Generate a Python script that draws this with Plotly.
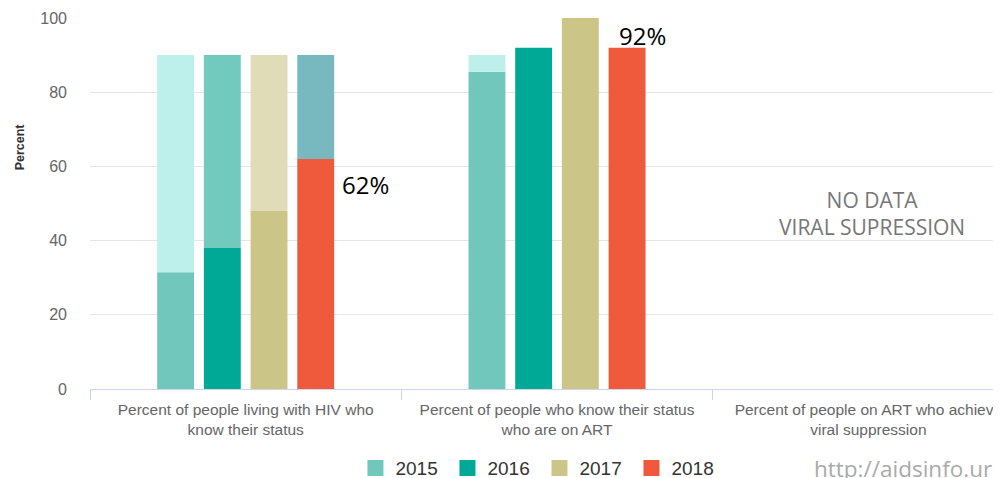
import plotly.graph_objects as go

categories = [
    "Percent of people living with HIV who<br>know their status",
    "Percent of people who know their status<br>who are on ART",
    "Percent of people on ART who achieve<br>viral suppression",
]
years = ["2015", "2016", "2017", "2018"]
target = 90

values_2015 = [31.5, 85.5, None]
values_2016 = [38, 92, None]
values_2017 = [48, 100, None]
values_2018 = [62, 92, None]
values = [values_2015, values_2016, values_2017, values_2018]

main_colors = ["#72c7bd", "#00a896", "#cbc687", "#f05a3c"]
gap_colors = ["#bdf0eb", "#72c9be", "#e0dcb8", "#77b9bf"]

fig = go.Figure()
for yr, vals, mc, gc in zip(years, values, main_colors, gap_colors):
    fig.add_trace(go.Bar(x=categories, y=vals, marker=dict(color=mc, line=dict(width=0)),
                         offsetgroup=yr, showlegend=False, name=yr))
    gaps = [(target - v) if (v is not None and v < target) else None for v in vals]
    fig.add_trace(go.Bar(x=categories, y=gaps, base=vals, marker=dict(color=gc, line=dict(width=0)),
                         offsetgroup=yr, showlegend=False, name=yr + " gap"))
    fig.add_trace(go.Scatter(x=[None], y=[None], mode="markers", name=yr,
                             marker=dict(symbol="square", size=17, color=mc)))

fig.update_layout(
    width=993, height=470,
    margin=dict(l=82, r=0, t=10, b=89),
    paper_bgcolor="white", plot_bgcolor="white",
    barmode="group", bargap=0.4, bargroupgap=0.21,
    font=dict(family="Arial, Liberation Sans", color="#666"),
    legend=dict(orientation="h", x=0.293, xanchor="left",
                yref="container", y=0.021, yanchor="middle",
                entrywidth=47, entrywidthmode="pixels",
                font=dict(size=19, color="#333"), itemclick=False),
    xaxis=dict(type="category", range=[-0.5, 2.41], tickson="boundaries", ticks="outside",
               ticklen=10, tickcolor="#ccd6eb", showline=True, linecolor="#ccd6eb",
               showgrid=False, tickfont=dict(size=15.5, color="#666"), ticklabelstandoff=6),
    yaxis=dict(range=[0, 100], dtick=20, gridcolor="#e6e6e6", zeroline=False,
               tickfont=dict(size=16, color="#666"), ticklabelstandoff=22),
)

fig.add_annotation(text="<b>Percent</b>", xref="paper", yref="paper", x=-0.077, y=0.652,
                   xanchor="center", yanchor="middle",
                   textangle=-90, showarrow=False, font=dict(size=12.5, color="#333"))
fig.add_annotation(text="62%", x=0, y=55, xref="x", yref="y", xanchor="left", xshift=94,
                   showarrow=False, font=dict(size=24, color="black", family="Open Sans"))
fig.add_annotation(text="92%", x=1, y=95.4, xref="x", yref="y", xanchor="left", xshift=60,
                   showarrow=False, font=dict(size=24, color="black", family="Open Sans"))
fig.add_annotation(text="NO DATA<br>VIRAL SUPRESSION", x=2, y=47.2, xref="x", yref="y",
                   xshift=4, showarrow=False, font=dict(size=21, color="#777", family="Open Sans"))
fig.add_annotation(text="http://aidsinfo.ur", xref="paper", yref="paper",
                   x=0.797, y=-0.213, xanchor="left", yanchor="middle", showarrow=False,
                   font=dict(size=22.5, color="#aaa", family="Open Sans"))

fig.write_html("out.html")
